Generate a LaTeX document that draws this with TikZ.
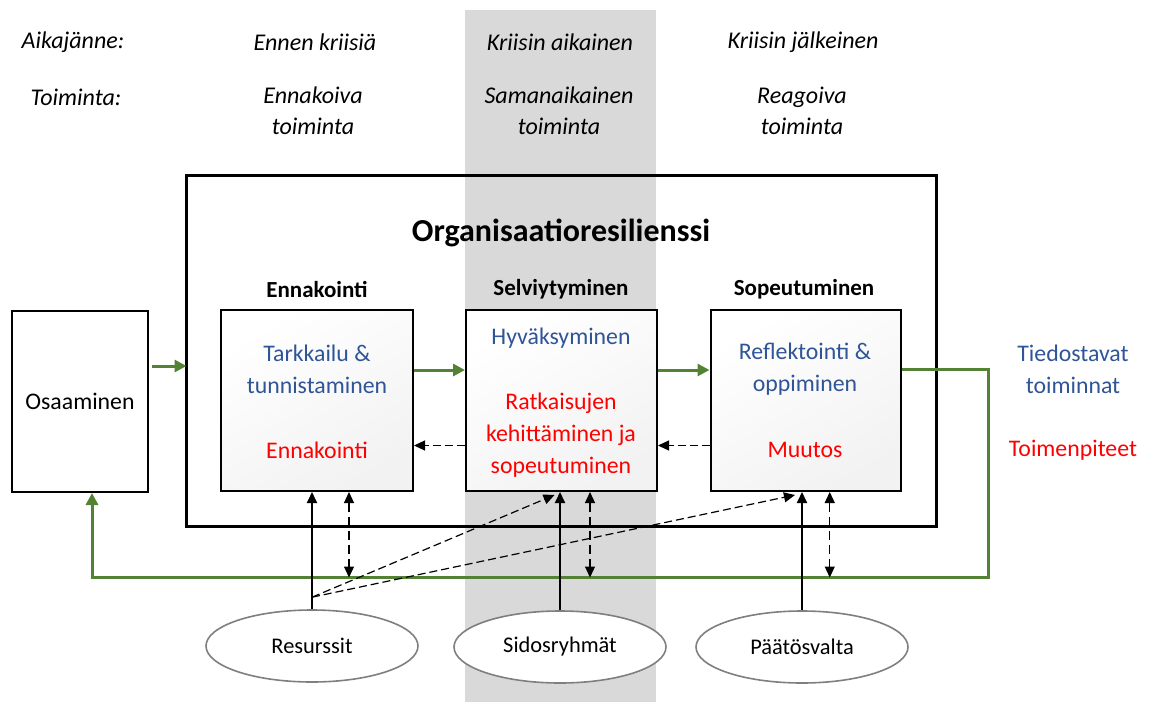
\documentclass[tikz,border=0pt]{standalone}
\usepackage{fontspec}
\setmainfont{Carlito}
\usetikzlibrary{arrows.meta,shapes.geometric,calc}
\definecolor{bandgray}{RGB}{217,217,217}
\definecolor{dgreen}{RGB}{84,130,53}
\definecolor{dblue}{RGB}{47,85,151}
\definecolor{ellgray}{RGB}{127,127,127}
\definecolor{boxfill}{RGB}{242,242,242}
\tikzset{
  txt/.style={font=\fontsize{11.9}{16}\selectfont, align=center, inner sep=0pt},
  toptxt/.style={font=\fontsize{12}{15.5}\selectfont\itshape, align=center, inner sep=0pt},
  hdr/.style={font=\fontsize{11.5}{16}\selectfont\bfseries, inner sep=0pt},
  bluetxt/.style={txt, text=dblue},
  redtxt/.style={txt, text=red},
  stagebox/.style={draw=black, line width=1pt, top color=white, bottom color=boxfill, shading angle=30, minimum height=90.5pt, inner sep=0pt},
  plainbox/.style={draw=black, line width=1pt, fill=white, minimum width=68pt, minimum height=90.5pt, inner sep=0pt},
  outerbox/.style={draw=black, line width=1.5pt, minimum width=375pt, minimum height=175.5pt, inner sep=0pt},
  oval/.style={ellipse, draw=ellgray, line width=0.8pt, fill=white, minimum width=106pt, minimum height=36pt, inner sep=0pt, font=\fontsize{11.2}{14}\selectfont},
  garrow/.style={draw=dgreen, line width=1.5pt, -{Triangle[length=6pt,width=6pt]}},
  sarrow/.style={draw=black, line width=1pt, -{Triangle[length=5.5pt,width=5pt]}},
  darrow/.style={draw=black, line width=0.6pt, dash pattern=on 4pt off 2pt, -{Triangle[length=5.5pt,width=5pt]}},
  ddarrow/.style={draw=black, line width=0.6pt, dash pattern=on 4.5pt off 2.5pt, {Triangle[length=5.5pt,width=5pt]}-{Triangle[length=5.5pt,width=5pt]}},
}
\begin{document}
\begin{tikzpicture}[x=0.5pt, y=-0.5pt]
\useasboundingbox (0,0) rectangle (1152,702);
\fill[bandgray] (465,10) rectangle (656,702);

% top rows
\node[toptxt] (t1) at (73,42) {Aikajänne:};
\node[toptxt] (t2) at (315,42) {Ennen kriisiä};
\node[toptxt] (t3) at (560,42) {Kriisin aikainen};
\node[toptxt] (t4) at (803,42) {Kriisin jälkeinen};
\node[toptxt] (u1) at (76,97) {Toiminta:};
\node[toptxt] (u2) at (313,111) {Ennakoiva\\toiminta};
\node[toptxt] (u3) at (559,111) {Samanaikainen\\toiminta};
\node[toptxt] (u4) at (802,111) {Reagoiva\\toiminta};

% outer box
\node[outerbox] (outer) at (561,350.5) {};
\node[font=\fontsize{16}{20}\selectfont\bfseries, inner sep=0pt] (title) at (561,233) {Organisaatioresilienssi};
\node[hdr] (h1) at (317,289) {Ennakointi};
\node[hdr] (h2) at (561,289) {Selviytyminen};
\node[hdr] (h3) at (804,289) {Sopeutuminen};

% boxes
\node[plainbox] (osa) at (80,401.5) {};
\node[txt] (osat) at (80,401.5) {Osaaminen};
\node[stagebox, minimum width=96pt] (b1) at (317,400.5) {};
\node[stagebox, minimum width=95.5pt] (b2) at (561.5,400.5) {};
\node[stagebox, minimum width=95.25pt] (b3) at (805.75,400.5) {};

\node[bluetxt] (b1a) at (317,369) {Tarkkailu \&\\tunnistaminen};
\node[redtxt] (b1b) at (317,450) {Ennakointi};
\node[bluetxt] (b2a) at (561,338) {Hyväksyminen};
\node[redtxt] (b2b) at (561,435) {Ratkaisujen\\kehittäminen ja\\sopeutuminen};
\node[bluetxt] (b3a) at (805,369) {Reflektointi \&\\oppiminen};
\node[redtxt] (b3b) at (805,450) {Muutos};

\node[bluetxt] (r1) at (1073,369) {Tiedostavat\\toiminnat};
\node[redtxt] (r2) at (1073,450) {Toimenpiteet};

% ellipses
\node[oval] (res) at (312,646) {Resurssit};
\node[oval] (sid) at (560,647) {Sidosryhmät};
\node[oval] (paa) at (802,647) {Päätösvalta};

% green flow
\draw[garrow] ([yshift=17.75pt,xshift=1.5pt]osa.east) -- ([yshift=17.75pt,xshift=1pt]osa.east -| outer.west);
\draw[garrow] ([yshift=15.25pt]b1.east) -- ([yshift=15.25pt]b1.east -| b2.west);
\draw[garrow] ([yshift=15.25pt]b2.east) -- ([yshift=15.25pt]b2.east -| b3.west);
\coordinate (gr) at (988,577.5);
\coordinate (gl) at (92,577.5);
\draw[garrow] ([yshift=15.75pt]b3.east) -| (gr) -- (gl) -- (gl |- osa.south);

% dashed back arrows
\draw[darrow] ([yshift=-22.5pt]b2.west) -- ([yshift=-22.5pt]b2.west -| b1.east);
\draw[darrow] ([yshift=-22.5pt]b3.west) -- ([yshift=-22.5pt]b3.west -| b2.east);

% solid arrows from ellipses
\draw[sarrow] (res.north) -- (res.north |- b1.south);
\draw[sarrow] (sid.north) -- (sid.north |- b2.south);
\draw[sarrow] (paa.north) -- (paa.north |- b3.south);

% dashed diagonals
\coordinate (rs) at ($(res.north)+(0,-12)$);
\draw[darrow] (rs) -- ([xshift=-3.5pt,yshift=-1.5pt]b2.south);
\draw[darrow] (rs) -- ([xshift=-5.4pt,yshift=-1.5pt]b3.south);

% dashed double arrows
\draw[ddarrow] ([xshift=16pt]b1.south) -- ([xshift=16pt]b1.south |- gl);
\draw[ddarrow] ([xshift=14.25pt]b2.south) -- ([xshift=14.25pt]b2.south |- gl);
\draw[ddarrow] ([xshift=12pt]b3.south) -- ([xshift=12pt]b3.south |- gl);
\end{tikzpicture}
\end{document}
